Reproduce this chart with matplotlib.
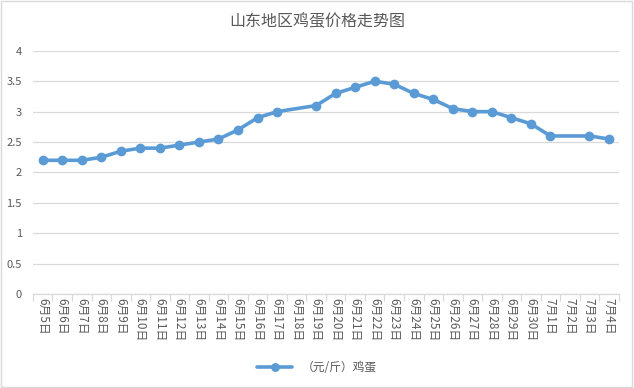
#山东地区鸡蛋价格走势图
import numpy as np
import matplotlib.pyplot as plt
from matplotlib.patches import Rectangle

plt.rcParams['font.family'] = ['Noto Sans CJK SC', 'DejaVu Sans']

#Data
dates = ['6月5日', '6月6日', '6月7日', '6月8日', '6月9日', '6月10日', '6月11日', '6月12日',
         '6月13日', '6月14日', '6月15日', '6月16日', '6月17日', '6月18日', '6月19日', '6月20日',
         '6月21日', '6月22日', '6月23日', '6月24日', '6月25日', '6月26日', '6月27日', '6月28日',
         '6月29日', '6月30日', '7月1日', '7月2日', '7月3日', '7月4日']
prices = [2.2, 2.2, 2.2, 2.25, 2.35, 2.4, 2.4, 2.45, 2.5, 2.55, 2.7, 2.9, 3.0, None, 3.1, 3.3,
          3.4, 3.5, 3.45, 3.3, 3.2, 3.05, 3.0, 3.0, 2.9, 2.8, 2.6, None, 2.6, 2.55]
yticks = [0, 0.5, 1, 1.5, 2, 2.5, 3, 3.5, 4]
ytick_labels = ['0', '0.5', '1', '1.5', '2', '2.5', '3', '3.5', '4']
series_name = '（元/斤）鸡蛋'

#Empty cells are skipped and the line connects over them
idx = [i for i, p in enumerate(prices) if p is not None]
vals = [prices[i] for i in idx]

fig = plt.figure(figsize=(6.34, 3.88), dpi=100)
ax = fig.add_axes([0.052, 0.242, 0.924, 0.627])

ax.plot(idx, vals, color='#5B9BD5', linewidth=2.6, marker='o', markersize=6,
        label=series_name, solid_capstyle='round', zorder=3)

ax.set_xlim(-0.5, len(dates) - 0.5)
ax.set_ylim(0, 4)
ax.set_yticks(yticks)
ax.set_yticklabels(ytick_labels)
ax.yaxis.grid(True, color='#d9d9d9', linewidth=0.9)
ax.set_axisbelow(True)

ax.set_xticks(range(len(dates)))
ax.set_xticklabels(dates, rotation=270, fontsize=8.5, color='#595959')
ax.set_xticks(np.arange(-0.5, len(dates), 1), minor=True)
ax.tick_params(axis='x', which='major', length=0, pad=3)
ax.tick_params(axis='x', which='minor', length=5, color='#d9d9d9', width=0.9)
ax.tick_params(axis='y', length=0, labelsize=8, labelcolor='#595959', pad=8)

for s in ['top', 'right', 'left']:
    ax.spines[s].set_visible(False)
ax.spines['bottom'].set_color('#d9d9d9')
ax.spines['bottom'].set_linewidth(0.9)

fig.text(0.5, 0.945, '山东地区鸡蛋价格走势图', ha='center', va='center',
         fontsize=11.5, color='#595959')

fig.legend(loc='center', bbox_to_anchor=(0.5, 0.052), frameon=False, fontsize=8.5,
           labelcolor='#595959', handlelength=3, markerscale=0.9)

#Chart border
fig.patches.append(Rectangle((0.002, 0.003), 0.995, 0.994, transform=fig.transFigure,
                             fill=False, edgecolor='#d9d9d9', linewidth=1))

plt.savefig('out.png', dpi=100)
